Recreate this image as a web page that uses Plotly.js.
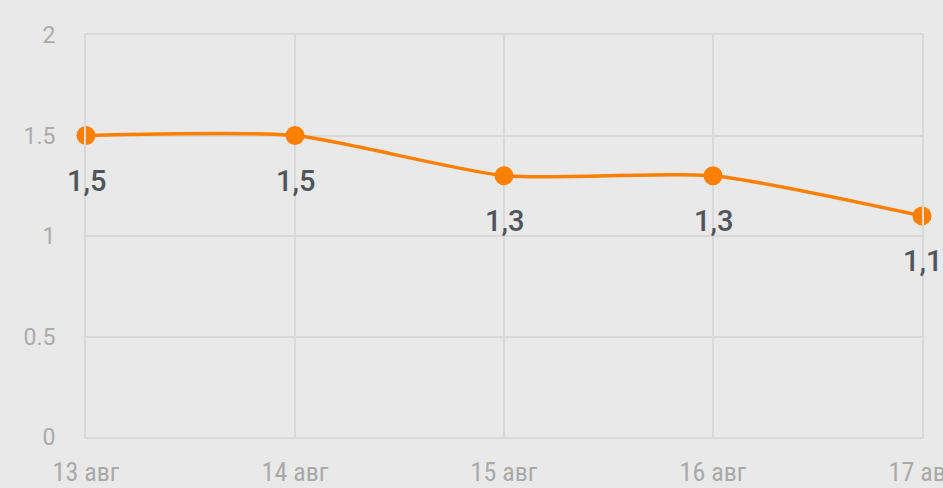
<!DOCTYPE html>
<html>
<head>
<meta charset="utf-8">
<script src="https://cdn.plot.ly/plotly-3.0.1.min.js"></script>
<style>html,body{margin:0;padding:0;background:#e9e9e9;}#chart{width:943px;height:488px;}</style>
</head>
<body>
<div id="chart"></div>
<script>
const dates = ["13 авг", "14 авг", "15 авг", "16 авг", "17 авг"];
const values = [1.5, 1.5, 1.3, 1.3, 1.1];
const yTicks = [0, 0.5, 1, 1.5, 2];

const trace = {
  x: dates,
  y: values,
  type: 'scatter',
  mode: 'lines+markers',
  line: {color: '#ff8000', width: 3.5, shape: 'spline', smoothing: 0.6},
  marker: {color: '#ff8000', size: 19},
  cliponaxis: false,
  hoverinfo: 'none'
};

const annotations = values.map((v, i) => ({
  x: dates[i], y: v, xref: 'x', yref: 'y',
  text: String(v).replace('.', ','),
  showarrow: false, yshift: -45,
  font: {family: 'Roboto, sans-serif', size: 29, weight: 500, color: '#50545c'}
}));

const gridColor = '#d9d9d9';

const layout = {
  width: 943, height: 488,
  margin: {l: 86, r: 21, t: 35, b: 51},
  paper_bgcolor: '#e9e9e9',
  plot_bgcolor: '#e9e9e9',
  showlegend: false,
  xaxis: {
    type: 'category',
    range: [0, 4],
    showgrid: true, gridcolor: gridColor, gridwidth: 2,
    showline: true, linecolor: gridColor, linewidth: 2, mirror: true,
    zeroline: false, ticks: '',
    ticklabelstandoff: 11,
    tickfont: {family: '"Liberation Sans Narrow", "Roboto Condensed", Roboto, sans-serif', size: 26, color: '#a9a9a9'}
  },
  yaxis: {
    range: [0, 2],
    tickvals: yTicks,
    ticktext: yTicks.map(String),
    showgrid: true, gridcolor: gridColor, gridwidth: 2,
    showline: true, linecolor: gridColor, linewidth: 2, mirror: true,
    zeroline: false, ticks: '',
    ticklabelstandoff: 24,
    tickfont: {family: 'Roboto, sans-serif', size: 23, color: '#ababab'}
  },
  annotations: annotations
};

Plotly.newPlot('chart', [trace], layout, {displayModeBar: false, staticPlot: true});
</script>
</body>
</html>
